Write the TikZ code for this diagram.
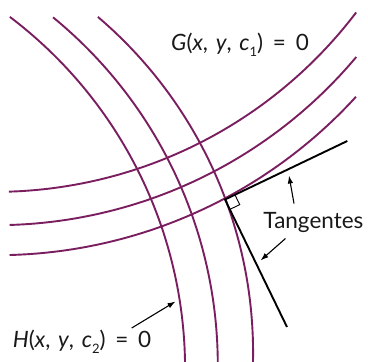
\documentclass[tikz,border=0pt]{standalone}
\usepackage{fontspec}
\setmainfont{Lato}
\usetikzlibrary{arrows.meta,calc}
\definecolor{curvecol}{RGB}{122,30,96}
\newcommand{\lowsub}[1]{\raisebox{-0.55ex}{\fontsize{13}{13}\selectfont #1}}
\begin{document}
\begin{tikzpicture}[x=1pt,y=-1pt,
  fam/.style={draw=curvecol, line width=1.9pt},
  tang/.style={draw=black, line width=1.9pt},
  arr/.style={draw=black, line width=1.1pt, -{Latex[length=8pt,width=5.5pt]}},
  lab/.style={inner sep=0pt, font=\fontsize{22.5}{26}\selectfont, text=black!90}]
\useasboundingbox (0,0) rectangle (368,362);
% family G
\draw[fam] plot[domain=37.2:88.2, samples=80] ({-5.3+453.8*cos(\x)},{-261.9+453.8*sin(\x)});
\draw[fam] plot[domain=40.0:88.3, samples=80] ({-4.4+470.8*cos(\x)},{-245.6+470.8*sin(\x)});
\draw[fam] plot[domain=42.4:88.5, samples=80] ({-3.2+486.4*cos(\x)},{-231.2+486.4*sin(\x)});
% family H
\draw[fam] plot[domain=-52.9:-0.9, samples=80] ({-256.5+441.6*cos(\x)},{369.1+441.6*sin(\x)});
\draw[fam] plot[domain=-50.7:-0.4, samples=80] ({-231.5+449.3*cos(\x)},{365+449.3*sin(\x)});
\draw[fam] plot[domain=-49.6:1.2, samples=80] ({-188+441.1*cos(\x)},{352.8+441.1*sin(\x)});
% tangents
\coordinate (P) at (225,199.5);
\coordinate (U) at (347.3,141);
\coordinate (L) at (287,327);
\draw[tang] (U) -- (P) -- (L);
\coordinate (sq1) at ($(P)!11pt!(U)$);
\coordinate (sq3) at ($(P)!11pt!(L)$);
\coordinate (sq2) at ($(sq1)+(sq3)-(P)$);
\draw[black, line width=0.9pt] (sq1) -- (sq2) -- (sq3);
% labels
\node[lab, anchor=base west] (Glab) at (171,50) {\textit{G}(\textit{x},\hspace{2pt} \textit{y},\hspace{2pt} \textit{c}\lowsub{1})\hspace{4pt} =\hspace{4pt} 0};
\node[lab, anchor=base west] (Hlab) at (12.7,347.7) {\textit{H}(\textit{x},\hspace{2pt} \textit{y},\hspace{2pt} \textit{c}\lowsub{2})\hspace{4pt} =\hspace{4pt} 0};
\node[lab, anchor=base west] (Tlab) at (263.3,228.3) {Tangentes};
% arrows
\coordinate (t1s) at (294,203.5);
\coordinate (t1e) at (289,175.5);
\coordinate (t2s) at (285.5,238.5);
\coordinate (t2e) at (260.5,260.5);
\coordinate (hs) at (131.7,328);
\coordinate (he) at (175.5,301.5);
\draw[arr] (t1s) -- (t1e);
\draw[arr] (t2s) -- (t2e);
\draw[arr] (hs) -- (he);
\end{tikzpicture}
\end{document}
